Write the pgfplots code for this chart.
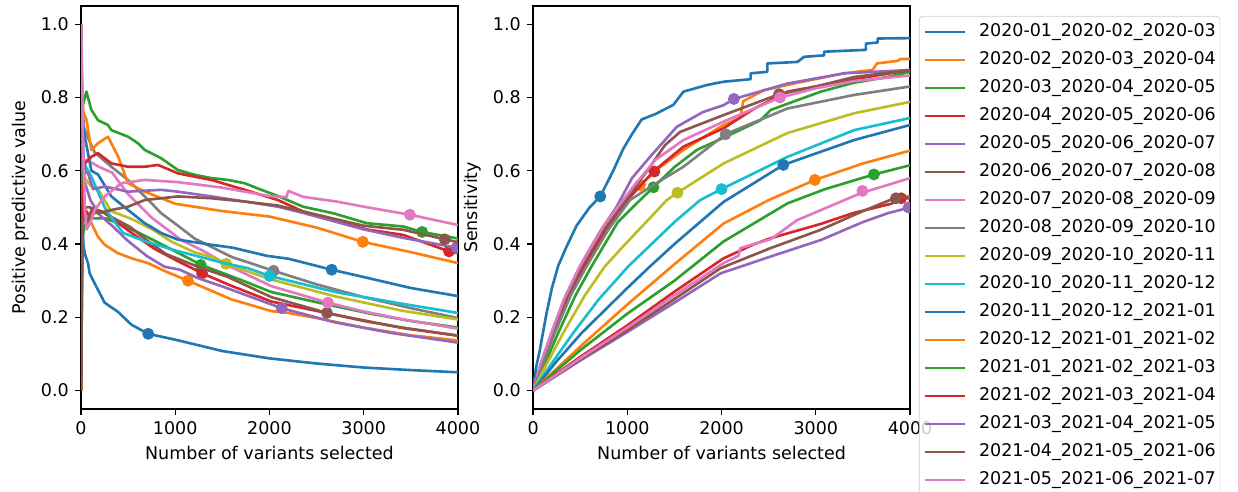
\documentclass[border=0pt]{standalone}
\usepackage{fontspec}
\setmainfont{DejaVu Sans}
\usepackage{pgfplots}
\pgfplotsset{compat=1.18}
\definecolor{c0}{HTML}{1F77B4}
\definecolor{c1}{HTML}{FF7F0E}
\definecolor{c2}{HTML}{2CA02C}
\definecolor{c3}{HTML}{D62728}
\definecolor{c4}{HTML}{9467BD}
\definecolor{c5}{HTML}{8C564B}
\definecolor{c6}{HTML}{E377C2}
\definecolor{c7}{HTML}{7F7F7F}
\definecolor{c8}{HTML}{BCBD22}
\definecolor{c9}{HTML}{17BECF}
\pgfplotsset{
 myaxis/.style={scale only axis, width=215.4pt, height=230.3pt,
  xmin=0, xmax=4000, ymin=-0.05, ymax=1.05,
  xtick={0,1000,2000,3000,4000}, ytick={0,0.2,0.4,0.6,0.8,1.0},
  tick align=outside, xtick pos=lower, ytick pos=left,
  major tick length=3.5pt, tick style={black, line width=0.8pt},
  axis line style={line width=0.8pt},
  /pgf/number format/assume math mode=true,
  /pgf/number format/1000 sep={},
  yticklabel style={/pgf/number format/fixed, /pgf/number format/fixed zerofill, /pgf/number format/precision=1},
  clip marker paths=true,
  every axis plot/.append style={line width=1.5pt, line join=round},
  xlabel={Number of variants selected}},
 dt/.style={only marks, mark=*, mark size=3pt, mark options={line width=0.8pt}, forget plot},
}
\begin{document}
\begin{tikzpicture}
\path[use as bounding box] (0,0) rectangle (707.4pt,281.1pt);
\clip (0,0) rectangle (707.4pt,281.1pt);
% ---------------- Panel 1: PPV ----------------
\begin{axis}[myaxis, at={(46.29pt,47.43pt)}, anchor=south west, ylabel={Positive predictive value}]
\addplot[c0] coordinates {(1,1.0) (5,0.7) (12,0.5) (25,0.4) (39,0.375) (74,0.348) (92,0.32) (130,0.30) (180,0.275) (251,0.24) (392,0.215) (534,0.18) (713,0.155) (1000,0.139) (1500,0.108) (2000,0.088) (2500,0.074) (3000,0.063) (3500,0.056) (4000,0.05)};
\addplot[c0,dt] coordinates {(713,0.155)};
\addplot[c1] coordinates {(2,0.5) (10,0.62) (25,0.52) (50,0.48) (110,0.457) (180,0.42) (251,0.398) (392,0.375) (550,0.36) (711,0.348) (900,0.325) (1135,0.30) (1596,0.249) (2021,0.217) (2200,0.212) (2500,0.198) (3000,0.172) (3500,0.151) (4000,0.137)};
\addplot[c1,dt] coordinates {(1135,0.30)};
\addplot[c2] coordinates {(1,0.0) (15,0.42) (40,0.45) (100,0.47) (266,0.47) (450,0.45) (620,0.43) (850,0.40) (1000,0.38) (1277,0.343) (1738,0.298) (2021,0.269) (2521,0.24) (3053,0.211) (3500,0.19) (4000,0.172)};
\addplot[c2,dt] coordinates {(1270,0.343)};
\addplot[c3] coordinates {(1,0.0) (10,0.45) (30,0.5) (80,0.48) (220,0.49) (380,0.46) (540,0.43) (780,0.387) (1000,0.357) (1287,0.32) (1596,0.286) (2021,0.243) (2699,0.207) (3408,0.171) (4000,0.15)};
\addplot[c3,dt] coordinates {(1285,0.32)};
\addplot[c4] coordinates {(1,1.0) (8,0.7) (20,0.6) (50,0.56) (100,0.52) (195,0.48) (330,0.45) (496,0.409) (700,0.367) (887,0.338) (1050,0.33) (1241,0.307) (1525,0.282) (2128,0.225) (2699,0.186) (3301,0.157) (4000,0.131)};
\addplot[c4,dt] coordinates {(2130,0.225)};
\addplot[c5] coordinates {(1,0.0) (10,0.5) (40,0.5) (95,0.5) (210,0.49) (350,0.47) (520,0.447) (700,0.41) (900,0.373) (1241,0.338) (1560,0.31) (2021,0.255) (2610,0.212) (3000,0.19) (3408,0.172) (4000,0.15)};
\addplot[c5,dt] coordinates {(2610,0.212)};
\addplot[c6] coordinates {(1,0.5) (15,0.62) (60,0.63) (195,0.61) (330,0.595) (496,0.537) (750,0.472) (1064,0.411) (1300,0.381) (1596,0.337) (2021,0.285) (2620,0.24) (3000,0.216) (3408,0.195) (4000,0.169)};
\addplot[c6,dt] coordinates {(2620,0.24)};
\addplot[c7] coordinates {(1,1.0) (10,0.8) (30,0.72) (57,0.70) (145,0.65) (322,0.611) (499,0.575) (676,0.53) (852,0.484) (1029,0.45) (1206,0.415) (1596,0.365) (2043,0.327) (2500,0.29) (3000,0.255) (3500,0.225) (4000,0.198)};
\addplot[c7,dt] coordinates {(2043,0.327)};
\addplot[c8] coordinates {(1,0.0) (15,0.5) (40,0.58) (100,0.56) (180,0.55) (319,0.49) (550,0.467) (762,0.439) (957,0.407) (1200,0.378) (1418,0.362) (1540,0.346) (2021,0.303) (2699,0.257) (3408,0.218) (4000,0.194)};
\addplot[c8,dt] coordinates {(1540,0.346)};
\addplot[c9] coordinates {(1,1.0) (10,0.75) (30,0.62) (110,0.584) (251,0.5) (357,0.46) (450,0.43) (700,0.406) (1010,0.382) (1500,0.349) (1773,0.334) (2000,0.313) (2699,0.269) (3408,0.237) (4000,0.212)};
\addplot[c9,dt] coordinates {(2000,0.313)};
\addplot[c0] coordinates {(1,1.0) (10,0.8) (20,0.72) (110,0.6) (180,0.59) (322,0.53) (499,0.493) (676,0.457) (852,0.43) (1029,0.412) (1383,0.398) (1613,0.39) (1970,0.368) (2200,0.36) (2660,0.33) (3000,0.31) (3500,0.28) (4000,0.258)};
\addplot[c0,dt] coordinates {(2660,0.33)};
\addplot[c1] coordinates {(1,1.0) (10,0.8) (25,0.76) (57,0.74) (110,0.657) (180,0.675) (233,0.684) (286,0.693) (392,0.64) (499,0.566) (676,0.543) (1000,0.51) (1500,0.49) (2000,0.475) (2500,0.445) (2990,0.406) (3500,0.378) (4000,0.348)};
\addplot[c1,dt] coordinates {(2990,0.406)};
\addplot[c2] coordinates {(1,0.5) (20,0.78) (57,0.816) (110,0.766) (180,0.738) (286,0.725) (322,0.711) (499,0.693) (605,0.675) (676,0.657) (852,0.634) (1029,0.602) (1206,0.589) (1383,0.58) (1560,0.575) (1737,0.566) (1914,0.548) (2090,0.531) (2356,0.502) (2677,0.484) (3031,0.457) (3417,0.448) (3620,0.433) (4000,0.415)};
\addplot[c2,dt] coordinates {(3620,0.433)};
\addplot[c3] coordinates {(1,0.0) (15,0.5) (40,0.62) (110,0.638) (180,0.648) (322,0.62) (499,0.611) (676,0.611) (817,0.616) (1029,0.593) (1383,0.575) (1737,0.548) (2090,0.52) (2356,0.489) (3031,0.44) (3417,0.425) (3905,0.38) (4000,0.375)};
\addplot[c3,dt] coordinates {(3905,0.38)};
\addplot[c4] coordinates {(1,1.0) (10,0.7) (30,0.6) (74,0.593) (127,0.55) (251,0.557) (499,0.543) (852,0.548) (1029,0.543) (1383,0.53) (1737,0.516) (2090,0.502) (2356,0.485) (3000,0.44) (3417,0.417) (3985,0.39)};
\addplot[c4,dt] coordinates {(3985,0.39)};
\addplot[c5] coordinates {(1,0.0) (15,0.45) (40,0.48) (74,0.46) (110,0.493) (180,0.484) (322,0.493) (499,0.502) (676,0.52) (852,0.525) (1029,0.53) (1383,0.525) (1737,0.516) (2090,0.505) (2356,0.489) (3000,0.45) (3417,0.439) (3860,0.413) (4000,0.405)};
\addplot[c5,dt] coordinates {(3860,0.413)};
\addplot[c6] coordinates {(1,1.0) (8,0.92) (20,0.7) (40,0.5) (60,0.44) (100,0.46) (145,0.493) (251,0.53) (428,0.566) (676,0.575) (1029,0.569) (1500,0.554) (2000,0.531) (2180,0.528) (2200,0.545) (2356,0.529) (2713,0.516) (3000,0.502) (3490,0.48) (4000,0.452)};
\addplot[c6,dt] coordinates {(3490,0.48)};
\end{axis}
% ---------------- Panel 2: Sensitivity ----------------
\begin{axis}[myaxis, at={(304.6pt,47.43pt)}, anchor=south west, ylabel={Sensitivity},
  legend cell align=left,
  legend image code/.code={\draw[#1, line width=1.5pt] (0pt,0pt) -- (22.9pt,0pt);},
  legend style={at={(1.0237,0.975)}, anchor=north west, draw=black!20, fill=white, fill opacity=0.8, text opacity=1, rounded corners=2pt, inner xsep=2.3pt, inner ysep=4pt, row sep=6.0pt, column sep=7.4pt, nodes={inner sep=0pt, text height=7.6pt, text depth=2.4pt}}]
\addplot[c0] coordinates {(0,0) (30,0.06) (71,0.11) (142,0.21) (200,0.28) (266,0.34) (350,0.39) (461,0.45) (600,0.50) (713,0.53) (850,0.60) (957,0.66) (1050,0.70) (1152,0.74) (1300,0.755) (1489,0.78) (1596,0.816) (1844,0.834) (2021,0.843) (2309,0.85) (2309,0.866) (2486,0.87) (2486,0.893) (2805,0.897) (2876,0.911) (3088,0.915) (3088,0.925) (3532,0.93) (3532,0.947) (3656,0.95) (3656,0.961) (4000,0.962)};
\addlegendentry{2020-01\_2020-02\_2020-03}
\addplot[c0,dt] coordinates {(713,0.53)};
\addplot[c1] coordinates {(0,0) (100,0.08) (213,0.157) (350,0.25) (540,0.339) (750,0.44) (960,0.52) (1135,0.561) (1350,0.61) (1596,0.657) (1800,0.69) (2021,0.725) (2200,0.745) (2230,0.79) (2450,0.82) (2800,0.84) (3301,0.866) (3600,0.875) (3650,0.893) (3868,0.90) (3900,0.905) (4000,0.905)};
\addlegendentry{2020-02\_2020-03\_2020-04}
\addplot[c1,dt] coordinates {(1135,0.561)};
\addplot[c2] coordinates {(0,0) (120,0.07) (266,0.157) (450,0.26) (620,0.339) (900,0.46) (1135,0.52) (1277,0.555) (1500,0.61) (1738,0.657) (2021,0.69) (2415,0.738) (2521,0.766) (3053,0.816) (3400,0.84) (3762,0.856) (4000,0.87)};
\addlegendentry{2020-03\_2020-04\_2020-05}
\addplot[c2,dt] coordinates {(1277,0.555)};
\addplot[c3] coordinates {(0,0) (100,0.075) (220,0.157) (380,0.255) (540,0.339) (780,0.44) (1000,0.52) (1277,0.598) (1596,0.666) (2021,0.716) (2350,0.77) (2699,0.816) (3000,0.83) (3408,0.85) (4000,0.875)};
\addlegendentry{2020-04\_2020-05\_2020-06}
\addplot[c3,dt] coordinates {(1287,0.598)};
\addplot[c4] coordinates {(0,0) (90,0.08) (195,0.157) (330,0.25) (496,0.339) (700,0.43) (887,0.502) (1050,0.58) (1241,0.638) (1525,0.72) (1800,0.76) (2021,0.779) (2131,0.796) (2699,0.838) (3301,0.866) (4000,0.875)};
\addlegendentry{2020-05\_2020-06\_2020-07}
\addplot[c4,dt] coordinates {(2131,0.796)};
\addplot[c5] coordinates {(0,0) (95,0.08) (210,0.157) (350,0.25) (520,0.339) (700,0.42) (900,0.49) (1241,0.611) (1400,0.67) (1560,0.706) (2021,0.752) (2610,0.809) (3000,0.83) (3408,0.856) (4000,0.875)};
\addlegendentry{2020-06\_2020-07\_2020-08}
\addplot[c5,dt] coordinates {(2610,0.809)};
\addplot[c6] coordinates {(0,0) (90,0.08) (195,0.157) (330,0.25) (496,0.339) (750,0.45) (1064,0.557) (1300,0.63) (1596,0.684) (2021,0.734) (2620,0.80) (3000,0.825) (3408,0.845) (4000,0.86)};
\addlegendentry{2020-07\_2020-08\_2020-09}
\addplot[c6,dt] coordinates {(2620,0.80)};
\addplot[c7] coordinates {(0,0) (100,0.07) (230,0.157) (400,0.26) (567,0.339) (800,0.44) (1028,0.52) (1300,0.565) (1596,0.611) (2043,0.70) (2699,0.77) (3408,0.807) (4000,0.83)};
\addlegendentry{2020-08\_2020-09\_2020-10}
\addplot[c7,dt] coordinates {(2043,0.70)};
\addplot[c8] coordinates {(0,0) (140,0.07) (319,0.157) (550,0.26) (762,0.339) (957,0.394) (1200,0.46) (1418,0.52) (1532,0.54) (2021,0.62) (2699,0.703) (3408,0.757) (4000,0.788)};
\addlegendentry{2020-09\_2020-10\_2020-11}
\addplot[c8,dt] coordinates {(1532,0.54)};
\addplot[c9] coordinates {(0,0) (200,0.075) (425,0.157) (700,0.25) (1010,0.339) (1500,0.46) (1773,0.52) (2000,0.55) (2699,0.638) (3408,0.711) (4000,0.744)};
\addlegendentry{2020-10\_2020-11\_2020-12}
\addplot[c9,dt] coordinates {(2000,0.55)};
\addplot[c0] coordinates {(0,0) (250,0.08) (514,0.157) (1000,0.28) (1241,0.339) (1500,0.40) (2021,0.515) (2655,0.616) (3408,0.684) (4000,0.725)};
\addlegendentry{2020-11\_2020-12\_2021-01}
\addplot[c0,dt] coordinates {(2655,0.616)};
\addplot[c1] coordinates {(0,0) (500,0.12) (1000,0.235) (1500,0.345) (2021,0.456) (2500,0.52) (2990,0.575) (3500,0.62) (4000,0.655)};
\addlegendentry{2020-12\_2021-01\_2021-02}
\addplot[c1,dt] coordinates {(2990,0.575)};
\addplot[c2] coordinates {(0,0) (500,0.11) (1000,0.21) (1500,0.30) (2021,0.407) (2699,0.511) (3100,0.55) (3617,0.59) (4000,0.615)};
\addlegendentry{2021-01\_2021-02\_2021-03}
\addplot[c2,dt] coordinates {(3617,0.59)};
\addplot[c3] coordinates {(0,0) (500,0.092) (1000,0.178) (1500,0.27) (2021,0.361) (2350,0.40) (2521,0.416) (3053,0.455) (3404,0.485) (3800,0.51) (3905,0.525) (4000,0.525)};
\addlegendentry{2021-02\_2021-03\_2021-04}
\addplot[c3,dt] coordinates {(3905,0.525)};
\addplot[c4] coordinates {(0,0) (500,0.082) (1000,0.16) (1500,0.24) (1989,0.32) (2521,0.366) (3053,0.411) (3500,0.46) (3762,0.484) (4000,0.50)};
\addlegendentry{2021-03\_2021-04\_2021-05}
\addplot[c4,dt] coordinates {(3985,0.50)};
\addplot[c5] coordinates {(0,0) (500,0.085) (1000,0.165) (1500,0.25) (1989,0.334) (2521,0.389) (3053,0.439) (3500,0.49) (3833,0.525) (4000,0.53)};
\addlegendentry{2021-04\_2021-05\_2021-06}
\addplot[c5,dt] coordinates {(3850,0.525)};
\addplot[c6] coordinates {(0,0) (500,0.088) (1000,0.172) (1500,0.26) (2021,0.348) (2180,0.368) (2200,0.389) (2521,0.413) (2800,0.465) (3479,0.539) (4000,0.58)};
\addlegendentry{2021-05\_2021-06\_2021-07}
\addplot[c6,dt] coordinates {(3495,0.545)};
\end{axis}
\end{tikzpicture}
\end{document}
